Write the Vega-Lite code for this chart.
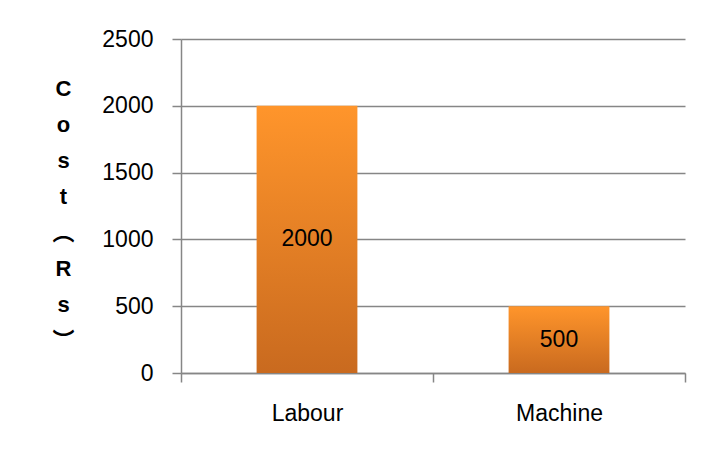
{
  "$schema": "https://vega.github.io/schema/vega-lite/v6.json",
  "autosize": {"type": "none"},
  "width": 504,
  "height": 334,
  "padding": {"left": 181, "top": 39, "right": 19, "bottom": 81},
  "background": "white",
  "config": {
    "view": {"stroke": null},
    "font": "Liberation Sans"
  },
  "data": {
    "values": [
      {"category": "Labour", "cost": 2000},
      {"category": "Machine", "cost": 500}
    ]
  },
  "encoding": {
    "x": {
      "field": "category",
      "type": "nominal",
      "sort": null,
      "scale": {"paddingInner": 0, "paddingOuter": 0},
      "axis": {
        "title": null,
        "labelAngle": 0,
        "labelFont": "Liberation Sans",
        "labelFontSize": 23,
        "labelColor": "#000000",
        "labelPadding": 20,
        "tickBand": "extent",
        "tickSize": 9,
        "tickColor": "#868686",
        "domainColor": "#868686",
        "domainWidth": 1.5,
        "tickWidth": 1.5
      }
    }
  },
  "layer": [
    {
      "mark": {
        "type": "bar",
        "width": {"band": 0.4},
        "color": {
          "gradient": "linear",
          "x1": 0, "y1": 0, "x2": 0, "y2": 1,
          "stops": [
            {"offset": 0, "color": "#FF952B"},
            {"offset": 1, "color": "#C96A1F"}
          ]
        }
      },
      "encoding": {
        "y": {
          "field": "cost",
          "type": "quantitative",
          "scale": {"domain": [0, 2500]},
          "axis": {
            "values": [0, 500, 1000, 1500, 2000, 2500],
            "format": "d",
            "title": ["C", "o", "s", "t", "︵", "R", "s", "︶"],
            "titleAngle": 0,
            "titleAlign": "center",
            "titleBaseline": "middle",
            "titleX": -118,
            "titleY": 49,
            "titleFont": "Liberation Sans, 'Noto Sans CJK SC'",
            "titleFontSize": 22,
            "titleFontWeight": "bold",
            "titleLineHeight": 36,
            "titleColor": "#000000",
            "labelFont": "Liberation Sans",
            "labelFontSize": 23,
            "labelColor": "#000000",
            "labelPadding": 19,
            "tickSize": 9,
            "tickColor": "#868686",
            "tickWidth": 1.5,
            "domainColor": "#868686",
            "domainWidth": 1.5,
            "grid": true,
            "gridColor": "#868686",
            "gridWidth": 1.5
          }
        }
      }
    },
    {
      "mark": {
        "type": "text",
        "font": "Liberation Sans",
        "fontSize": 23,
        "color": "#000000",
        "baseline": "middle"
      },
      "encoding": {
        "y": {
          "field": "cost",
          "type": "quantitative",
          "scale": {"domain": [0, 5000]},
          "axis": null
        },
        "text": {"field": "cost", "type": "quantitative", "format": "d"}
      }
    }
  ],
  "resolve": {"scale": {"y": "independent"}}
}
